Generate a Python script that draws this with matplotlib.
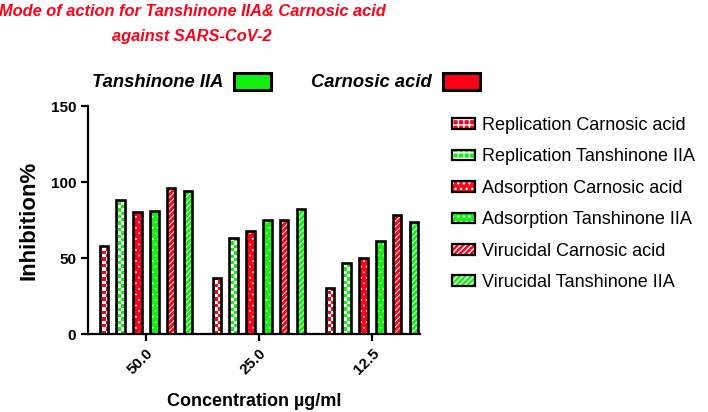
import matplotlib
matplotlib.use("Agg")
import matplotlib.pyplot as plt
from matplotlib.patches import Patch
import matplotlib.colors as mcolors
import numpy as np

# ---- data ----
concentrations = ["50.0", "25.0", "12.5"]
replication_carnosic = [58, 37, 30]
replication_tanshinone = [88, 63, 47]
adsorption_carnosic = [80, 68, 50]
adsorption_tanshinone = [81, 75, 61]
virucidal_carnosic = [96, 75, 78]
virucidal_tanshinone = [94, 82, 74]
series_labels = ["Replication Carnosic acid", "Replication Tanshinone IIA",
                 "Adsorption Carnosic acid", "Adsorption Tanshinone IIA",
                 "Virucidal Carnosic acid", "Virucidal Tanshinone IIA"]
y_ticks = [0, 50, 100, 150]

RED = "#FF0018"
GREEN = "#12F012"

plt.rcParams['font.family'] = ['Liberation Sans', 'DejaVu Sans']

fig = plt.figure(figsize=(7.08, 4.12), dpi=100)
ax = fig.add_axes([88/708, 1-334/412, (420-88)/708, (334-106)/412])

series = [replication_carnosic, replication_tanshinone, adsorption_carnosic,
          adsorption_tanshinone, virucidal_carnosic, virucidal_tanshinone]
colors = [RED, GREEN, RED, GREEN, RED, GREEN]
styles = ["checker", "checker", "dots", "dots", "stripes", "stripes"]
hatch_map = {"checker": "+++", "dots": "...", "stripes": "//////"}
hatch_lw = {"checker": 1.6, "dots": 0.5, "stripes": 0.7}

XLIM = (-0.513, 2.425)
YLIM = (0, 150)
ax.set_xlim(*XLIM)
ax.set_ylim(*YLIM)

def checker_rgba(color, nx=100, ny=69):
    rgba = np.array(mcolors.to_rgba(color))
    jj, ii = np.meshgrid(np.arange(nx), np.arange(ny))
    mask = (ii + jj) % 2 == 0
    img = np.zeros((ny, nx, 4))
    img[mask] = rgba
    return img

x = np.arange(len(concentrations))
pitch = 0.15
width = 0.072
handles = []
for i, (vals, c, st, lab) in enumerate(zip(series, colors, styles, series_labels)):
    off = (i - 2.5) * pitch
    if st == "checker":
        bars = ax.bar(x + off, vals, width, color="white", linewidth=0, zorder=2)
        img = checker_rgba(c)
        for b in bars:
            im = ax.imshow(img, extent=(XLIM[0], XLIM[1], YLIM[0], YLIM[1]),
                           aspect="auto", interpolation="nearest", zorder=2.5,
                           origin="lower")
            im.set_clip_path(b)
    else:
        with plt.rc_context({'hatch.linewidth': hatch_lw[st]}):
            bars = ax.bar(x + off, vals, width, color=c, edgecolor="white",
                          hatch=hatch_map[st], linewidth=0, zorder=2)
            for b in bars:
                if hasattr(b, "set_hatch_linewidth"):
                    b.set_hatch_linewidth(hatch_lw[st])
    ax.bar(x + off, vals, width, fill=False, edgecolor="black", linewidth=1.9, zorder=3)
    with plt.rc_context({'hatch.linewidth': hatch_lw[st]}):
        p1 = Patch(facecolor=c, edgecolor="white", hatch=hatch_map[st], linewidth=0)
    if hasattr(p1, "set_hatch_linewidth"):
        p1.set_hatch_linewidth(hatch_lw[st])
    p2 = Patch(facecolor="none", edgecolor="black", linewidth=1.6)
    handles.append((p1, p2))

ax.set_xlim(*XLIM)
ax.set_ylim(*YLIM)
ax.set_yticks(y_ticks)
ax.set_yticklabels([str(t) for t in y_ticks])
ax.set_xticks(x)
ax.set_xticklabels(concentrations, rotation=45, ha="right", rotation_mode="anchor")
for s in ["top", "right"]:
    ax.spines[s].set_visible(False)
for s in ["left", "bottom"]:
    ax.spines[s].set_linewidth(1.6)
ax.tick_params(axis="both", width=1.6, length=5, labelsize=11)
for lbl in ax.get_xticklabels() + ax.get_yticklabels():
    lbl.set_fontweight("bold")
ax.set_ylabel("Inhibition%", fontsize=16, fontweight="bold", labelpad=8)
ax.set_xlabel("Concentration µg/ml", fontsize=13, fontweight="bold", labelpad=12)

# right legend
fig.legend(handles, series_labels, loc="upper left", bbox_to_anchor=(452/708, 1-117/412),
           frameon=False, fontsize=13, handlelength=1.25, handleheight=0.55,
           handletextpad=0.4, labelspacing=0.8, borderpad=0, borderaxespad=0)

# top legend
top_handles = [Patch(facecolor=GREEN, edgecolor="black", linewidth=2.2, joinstyle="round"),
               Patch(facecolor=RED, edgecolor="black", linewidth=2.2, joinstyle="round")]
fig.legend(top_handles, ["Tanshinone IIA", "Carnosic acid"], loc="center left",
           bbox_to_anchor=(92/708, 1-82/412), ncol=2, markerfirst=False, frameon=False,
           prop=dict(weight="bold", style="italic", size=13.2),
           handlelength=2.0, handleheight=1.05, handletextpad=0.6, columnspacing=2.2,
           borderpad=0, borderaxespad=0)

# title
fig.text(192/708, 1-12/412, "Mode of action for Tanshinone IIA& Carnosic acid",
         ha="center", va="center", color=RED, weight="bold", style="italic", size=11.8)
fig.text(192/708, 1-36/412, "against SARS-CoV-2",
         ha="center", va="center", color=RED, weight="bold", style="italic", size=11.8)

fig.savefig("out.png", dpi=100)
